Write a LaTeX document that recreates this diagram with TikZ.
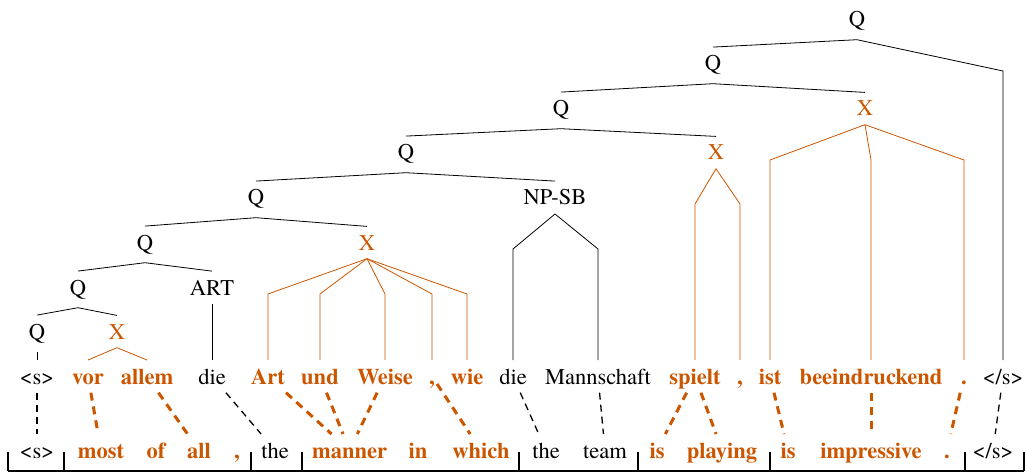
\documentclass[tikz,border=0pt]{standalone}
\usepackage{fontspec}
\setmainfont{texgyretermes}[Extension=.otf,UprightFont=*-regular,BoldFont=*-bold,ItalicFont=*-italic,BoldItalicFont=*-bolditalic]
\definecolor{org}{RGB}{204,85,0}
\tikzset{
  lbl/.style={anchor=base,inner xsep=2pt,inner ysep=8.5pt,font=\fontsize{22.5pt}{27pt}\selectfont},
  olbl/.style={lbl,text=org},
  wd/.style={anchor=base,inner xsep=2pt,inner ysep=8.5pt,text height=15.3pt,text depth=0pt,font=\fontsize{22.5pt}{27pt}\selectfont},
  owd/.style={wd,text=org,font=\fontsize{22.5pt}{27pt}\selectfont\bfseries},
  tedge/.style={draw=black,line width=0.8pt},
  oedge/.style={draw=org,line width=0.8pt},
  oal/.style={draw=org,line width=3pt,dash pattern=on 8pt off 6pt},
  bal/.style={draw=black,line width=1.3pt,dash pattern=on 7pt off 5pt},
  brk/.style={draw=black,line width=1.6pt}
}
\begin{document}
\begin{tikzpicture}[x=1pt,y=-1pt]
\useasboundingbox (0,0) rectangle (1025,473);
% source row
\node[wd]  (bos)  at (37,384)  {\textless s\textgreater};
\node[owd] (vor)  at (88,384)  {vor};
\node[owd] (allem) at (147,384) {allem};
\node[wd]  (dieA) at (212,384) {die};
\node[owd] (art)  at (268,384) {Art};
\node[owd] (und)  at (320,384) {und};
\node[owd] (weise) at (385,384) {Weise};
\node[owd] (cmA)  at (432,384) {,};
\node[owd] (wie)  at (467,384) {wie};
\node[wd]  (dieB) at (513,384) {die};
\node[wd]  (mann) at (598,384) {Mannschaft};
\node[owd] (spielt) at (695,384) {spielt};
\node[owd] (cmB)  at (740,384) {,};
\node[owd] (ist)  at (770,384) {ist};
\node[owd] (beein) at (871,384) {beeindruckend};
\node[owd] (per)  at (964,384) {.};
\node[wd]  (eos)  at (1003,384) {\textless/s\textgreater};
% target row
\node[wd]  (tbos)  at (37,458)  {\textless s\textgreater};
\node[owd] (most)  at (101,458) {most};
\node[owd] (of)    at (156,458) {of};
\node[owd] (all)   at (199,458) {all};
\node[owd] (tcm)   at (237,458) {,};
\node[wd]  (theA)  at (275,458) {the};
\node[owd] (manner) at (349.5,458) {manner};
\node[owd] (in)    at (418,458) {in};
\node[owd] (which) at (481,458) {which};
\node[wd]  (theB)  at (546,458) {the};
\node[wd]  (team)  at (605,458) {team};
\node[owd] (isA)   at (657,458) {is};
\node[owd] (playing) at (722,458) {playing};
\node[owd] (isB)   at (788,458) {is};
\node[owd] (impr)  at (871,458) {impressive};
\node[owd] (tper)  at (947,458) {.};
\node[wd]  (teos)  at (993,458) {\textless/s\textgreater};
% tree labels
\node[lbl]  (q0) at (857,27)  {Q};
\node[lbl]  (q7) at (713,71)  {Q};
\node[lbl]  (q6) at (561,116) {Q};
\node[olbl] (x3) at (865,116) {X};
\node[lbl]  (q5) at (406,160) {Q};
\node[olbl] (x2) at (716,160) {X};
\node[lbl]  (q4) at (256,205) {Q};
\node[lbl]  (np) at (555,205) {NP-SB};
\node[lbl]  (q3) at (145,250) {Q};
\node[olbl] (x1) at (367,250) {X};
\node[lbl]  (q2) at (78,295)  {Q};
\node[lbl]  (artl) at (212,295) {ART};
\node[lbl]  (q1) at (37,339)  {Q};
\node[olbl] (x0) at (117,339) {X};
% knee levels
\coordinate (k71) at (0,71);
\coordinate (k160) at (0,160);
\coordinate (k204) at (0,204);
\coordinate (k249) at (0,249);
\coordinate (k294) at (0,294);
% tree edges
\draw[tedge] (q0.south) -- (q7.north);
\draw[tedge] (q0.south) -- (eos.north |- k71) -- (eos.north);
\draw[tedge] (q7.south) -- (q6.north);
\draw[tedge] (q7.south) -- (x3.north);
\draw[tedge] (q6.south) -- (q5.north);
\draw[tedge] (q6.south) -- (x2.north);
\draw[oedge] (x3.south) -- (ist.north |- k160) -- (ist.north);
\draw[oedge] (x3.south) -- (beein.north |- k160) -- (beein.north);
\draw[oedge] (x3.south) -- (per.north |- k160) -- (per.north);
\draw[tedge] (q5.south) -- (q4.north);
\draw[tedge] (q5.south) -- (np.north);
\draw[oedge] (x2.south) -- (spielt.north |- k204) -- (spielt.north);
\draw[oedge] (x2.south) -- (cmB.north |- k204) -- (cmB.north);
\draw[tedge] (q4.south) -- (q3.north);
\draw[tedge] (q4.south) -- (x1.north);
\draw[tedge] (np.south) -- (dieB.north |- k249) -- (dieB.north);
\draw[tedge] (np.south) -- (mann.north |- k249) -- (mann.north);
\draw[tedge] (q3.south) -- (q2.north);
\draw[tedge] (q3.south) -- (artl.north);
\draw[oedge] (x1.south) -- (art.north |- k294) -- (art.north);
\draw[oedge] (x1.south) -- (und.north |- k294) -- (und.north);
\draw[oedge] (x1.south) -- (weise.north |- k294) -- (weise.north);
\draw[oedge] (x1.south) -- (cmA.north |- k294) -- (cmA.north);
\draw[oedge] (x1.south) -- (wie.north |- k294) -- (wie.north);
\draw[tedge] (q2.south) -- (q1.north);
\draw[tedge] (q2.south) -- (x0.north);
\draw[tedge] (artl.south) -- (dieA.north);
\draw[tedge] (q1.south) -- (bos.north);
\draw[oedge] (x0.south) -- (vor.north);
\draw[oedge] (x0.south) -- (allem.north);
% alignments
\draw[bal] (bos) -- (tbos);
\draw[oal] (vor) -- (most);
\draw[oal] (allem) -- (all);
\draw[bal] (dieA) -- (theA);
\draw[oal] (art) -- (manner);
\draw[oal] (und) -- (manner);
\draw[oal] (weise) -- (manner);
\draw[oal] (cmA) -- (which);
\draw[bal] (dieB) -- (theB);
\draw[bal] (mann) -- (team);
\draw[oal] (spielt) -- (isA);
\draw[oal] (spielt) -- (playing);
\draw[oal] (ist) -- (isB);
\draw[oal] (beein) -- (impr);
\draw[oal] (per) -- (tper);
\draw[bal] (eos) -- (teos);
% brackets
\coordinate (b0) at (8,471);
\coordinate (b1) at (64,471);
\coordinate (b2) at (251,471);
\coordinate (b3) at (302,471);
\coordinate (b4) at (519,471);
\coordinate (b5) at (638,471);
\coordinate (b6) at (770,471);
\coordinate (b7) at (965,471);
\coordinate (b8) at (1024,471);
\coordinate (top) at (0,452);
\draw[brk] (b0) -- (b8);
\foreach \b in {b0,b1,b2,b3,b4,b5,b6,b7,b8}
  \draw[brk] (\b) -- (\b |- top);
\end{tikzpicture}
\end{document}
